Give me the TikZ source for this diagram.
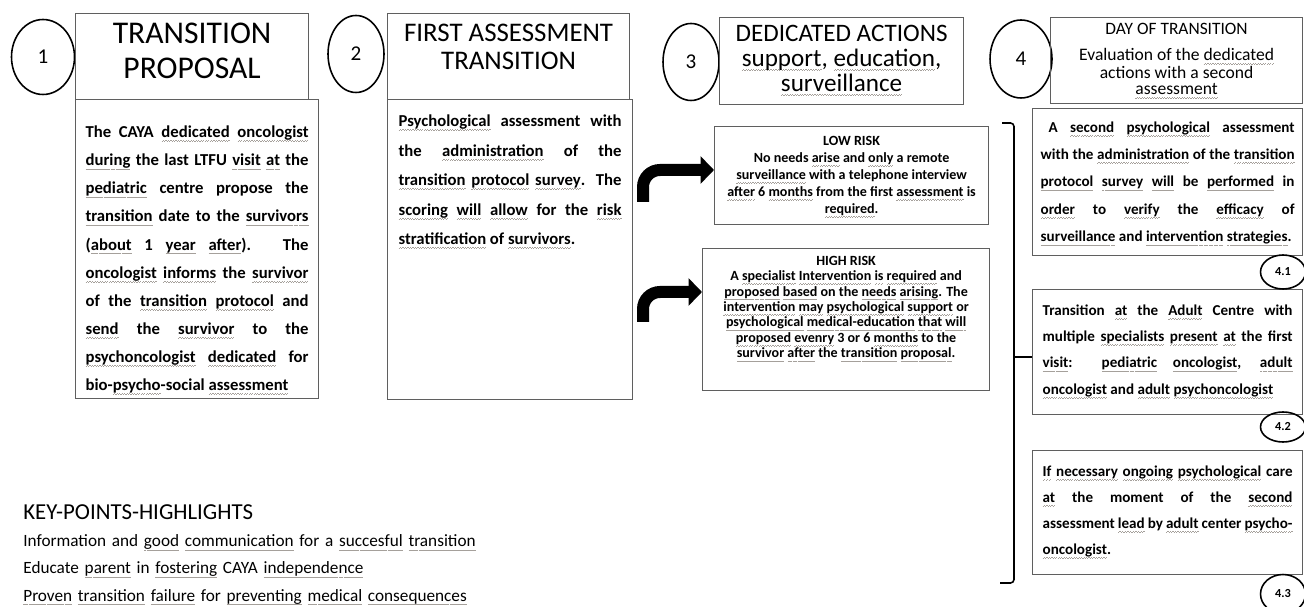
\documentclass[tikz,border=0pt]{standalone}
\usepackage{fontspec}
\setmainfont{Carlito}
\usetikzlibrary{positioning,shapes.geometric,arrows.meta}
\definecolor{wavy}{RGB}{165,160,155}
\definecolor{boxline}{RGB}{95,95,95}
\newcommand\sq[1]{\leavevmode\setbox0\hbox{#1}\rlap{\raisebox{-2.3pt}{\textcolor{wavy}{\hbox to \wd0{\xleaders\hbox{\rule{0.7pt}{0.35pt}\rule[0.35pt]{0.7pt}{0.35pt}}\hfill}}}}\box0\relax}
\lineskiplimit=-100pt
\hyphenpenalty=10000
\exhyphenpenalty=10000
\tolerance=9999
\hbadness=10000
\begin{document}
\begin{tikzpicture}[x=0.02cm,y=-0.02cm,
	panel/.style={draw=boxline, line width=0.7pt, anchor=north west, inner sep=0pt},
	num/.style={ellipse, draw=black, line width=0.9pt, inner sep=0pt, font=\fontsize{12}{14}\selectfont},
	subnum/.style={ellipse, draw=black, line width=0.9pt, inner sep=0pt, minimum width=0.9cm, font=\bfseries\fontsize{7}{8}\selectfont},
	bentarrow/.style={line width=0.24cm, rounded corners=0.34cm, -{Triangle[length=0.27cm,width=0.54cm]}},
	bracketline/.style={line width=0.9pt, rounded corners=2pt}]
	\useasboundingbox (0,0) rectangle (1304,607);

	\node[num, minimum width=1.26cm, minimum height=1.5cm] (n1) at (43,57) {1};
	\node[panel] (prop) at (75,13) {\parbox[t][1.72cm][t]{4.66cm}{\centering\fontsize{18}{20}\selectfont\rule{0pt}{0.6cm}TRANSITION\\PROPOSAL}};
	\node[panel, inner xsep=0.2cm] (propbody) at (75,99) {\parbox[t][5.98cm][t]{4.46cm}{\bfseries\fontsize{9.5}{16}\selectfont\rule{0pt}{0.76cm}The CAYA \sq{dedicated} \sq{oncologist}\linebreak
		\sq{during} the last LTFU \sq{visit} \sq{at} the\linebreak
		\sq{pediatric} centre propose the\linebreak
		\sq{transition} date to the \sq{survivors}\linebreak
		(\sq{about} 1 \sq{year} \sq{after}). The\linebreak
		\sq{oncologist} \sq{informs} the \sq{survivor}\linebreak
		of the \sq{transition} \sq{protocol} and\linebreak
		\sq{send} the \sq{survivor} to the\linebreak
		\sq{psychoncologist} \sq{dedicated} for\linebreak
		bio-\sq{psycho}-social \sq{assessment}}};

	\node[num, minimum width=1.12cm, minimum height=1.54cm] (n2) at (356,54) {2};
	\node[panel] (first) at (387,13) {\parbox[t][1.72cm][t]{4.84cm}{\centering\fontsize{15.3}{16}\selectfont\rule{0pt}{0.55cm}FIRST ASSESSMENT\\TRANSITION}};
	\node[panel, inner xsep=0.22cm] (firstbody) at (387,99) {\parbox[t][6cm][t]{4.46cm}{\bfseries\fontsize{9.5}{16.8}\selectfont\rule{0pt}{0.54cm}\sq{Psychological} assessment with\linebreak
		the \sq{administration} of the\linebreak
		\sq{transition} \sq{protocol} \sq{survey}. The\linebreak
		\sq{scoring} \sq{will} \sq{allow} for the \sq{risk}\linebreak
		\sq{stratification} of \sq{survivors}.}};

	\node[num, minimum width=1.12cm, minimum height=1.54cm] (n3) at (691,62) {3};
	\node[panel] (actions) at (719,17) {\parbox[t][1.74cm][t]{4.88cm}{\centering\fontsize{14.3}{14.2}\selectfont\rule{0pt}{0.48cm}DEDICATED ACTIONS\\\sq{support}, \sq{education},\\\sq{surveillance}}};
	\node[panel] (low) at (714,126) {\parbox[t][1.96cm][t]{5.48cm}{\centering\bfseries\fontsize{8}{9.7}\selectfont\rule{0pt}{0.37cm}LOW RISK\\
		No needs \sq{arise} and \sq{only} a remote\\
		\sq{surveillance} with a telephone interview\\
		\sq{after} 6 \sq{months} from the first \sq{assessment} is\\
		\sq{required}.}};
	\node[panel] (high) at (702,248) {\parbox[t][2.84cm][t]{5.74cm}{\centering\bfseries\fontsize{8}{8.8}\selectfont\rule{0pt}{0.33cm}HIGH RISK\\
		A \sq{specialist} \sq{Intervention} \sq{is} \sq{required} and\\
		\sq{proposed} \sq{based} on the \sq{needs} \sq{arising}. The\\
		\sq{intervention} \sq{may} \sq{psychological} \sq{support} or\\
		\sq{psychological} \sq{medical-education} \sq{that} \sq{will}\\
		\sq{proposed} \sq{evenry} 3 or 6 \sq{months} to the\\
		\sq{survivor} \sq{after} the \sq{transition} \sq{proposal}.}};
	\coordinate (up1) at (643,202);
	\coordinate (up2) at (643,322);
	\draw[bentarrow] (up1) |- (low.west |- 0,170);
	\draw[bentarrow] (up2) |- (high.west |- 0,292);

	\node[num, minimum width=1.24cm, minimum height=1.56cm] (n4) at (1021,59) {4};
	\node[panel] (day) at (1050,17) {\parbox[t][1.72cm][t]{5.04cm}{\centering\fontsize{9.9}{9.2}\selectfont\rule{0pt}{0.33cm}DAY OF TRANSITION\\[5.6pt]
		\fontsize{10}{9.2}\selectfont Evaluation of the \sq{dedicated}\\actions with a second\\\sq{assessment}}};
	\node[panel, inner xsep=0.16cm] (second) at (1032,108) {\parbox[t][2.94cm][t]{5.08cm}{\bfseries\fontsize{8.6}{15.6}\selectfont\rule{0pt}{0.47cm}\hspace*{0.16cm}A \sq{second} \sq{psychological} assessment\linebreak
		with the \sq{administration} of the \sq{transition}\linebreak
		\sq{protocol} \sq{survey} \sq{will} be \sq{performed} in\linebreak
		\sq{order} to \sq{verify} the \sq{efficacy} of\linebreak
		\sq{surveillance} and \sq{intervention} \sq{strategies}.}};
	\node[panel, inner xsep=0.2cm] (adult) at (1032,289) {\parbox[t][2.5cm][t]{5cm}{\bfseries\fontsize{8.6}{15}\selectfont\rule{0pt}{0.51cm}Transition \sq{at} the \sq{Adult} Centre with\linebreak
		multiple \sq{specialists} \sq{present} \sq{at} the first\linebreak
		\sq{visit}: \sq{pediatric} \sq{oncologist}, \sq{adult}\linebreak
		\sq{oncologist} and \sq{adult} \sq{psychoncologist}}};
	\node[panel, inner xsep=0.2cm] (care) at (1032,450) {\parbox[t][2.48cm][t]{5cm}{\bfseries\fontsize{8.6}{14.8}\selectfont\rule{0pt}{0.51cm}\sq{If} \sq{necessary} \sq{ongoing} \sq{psychological} care\linebreak
		\sq{at} the moment of the \sq{second}\linebreak
		assessment \sq{lead} by \sq{adult} center \sq{psycho-}\linebreak
		\sq{oncologist}.}};
	\node[subnum, minimum height=0.68cm] (s1) at (1283,272) {4.1};
	\node[subnum, minimum height=0.6cm] (s2) at (1283,427) {4.2};
	\node[subnum, minimum height=0.78cm] (s3) at (1283,594) {4.3};
	\coordinate (brtop) at (1002,123);
	\coordinate (brbot) at (1000,583);
	\coordinate (brmid) at (1014,357);
	\draw[bracketline] (brtop) -- (brmid |- brtop) -- (brmid |- brbot) -- (brbot);
	\draw[bracketline] (brmid) -- (adult.west |- brmid);

	\node[anchor=north west, inner sep=0pt, text width=10cm, align=left, font=\fontsize{9.8}{15.4}\selectfont] (keys) at (23,490) {\rule{0pt}{0.59cm}{\fontsize{13}{15.4}\selectfont KEY-POINTS-HIGHLIGHTS}\\
		Information and \sq{good} \sq{communication} for a \sq{succesful} \sq{transition}\\
		Educate \sq{parent} in \sq{fostering} CAYA \sq{independence}\\
		\sq{Proven} \sq{transition} \sq{failure} for \sq{preventing} \sq{medical} \sq{consequences}};
\end{tikzpicture}
\end{document}
